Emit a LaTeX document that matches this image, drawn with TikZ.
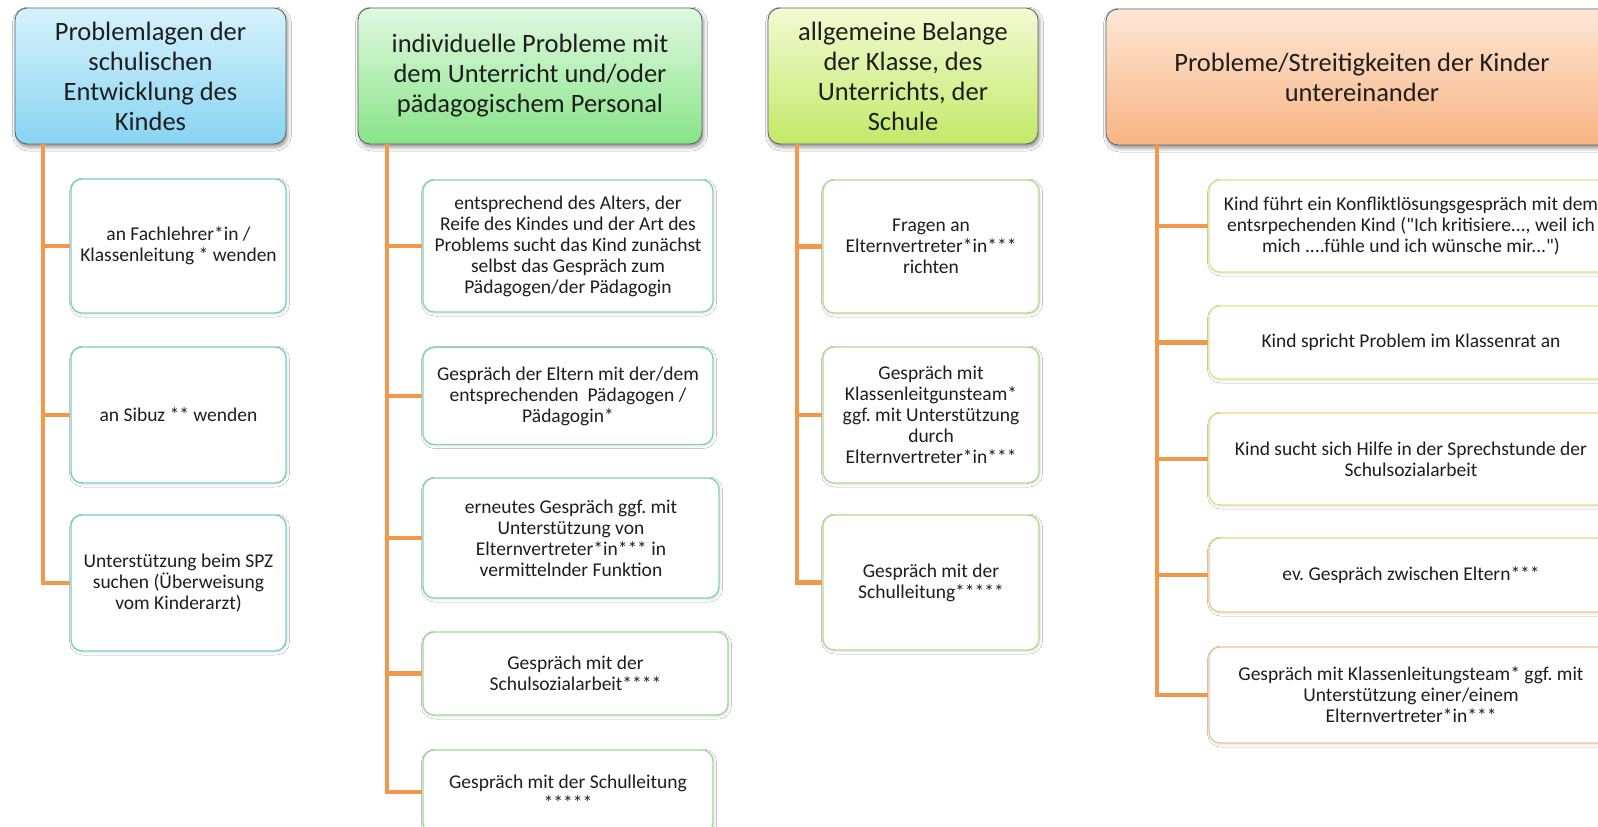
\documentclass[tikz,border=0pt]{standalone}
\usepackage{fontspec}
\setmainfont{Carlito}
\usetikzlibrary{shadows.blur}
\frenchspacing

\definecolor{txt}{HTML}{1E1E1E}
\definecolor{hdrline}{HTML}{5E6868}
\definecolor{connorange}{HTML}{F3984A}
\definecolor{blueTop}{HTML}{D6F2FC}
\definecolor{blueBot}{HTML}{88D4F2}
\definecolor{greenTop}{HTML}{E0F9E0}
\definecolor{greenBot}{HTML}{88E488}
\definecolor{limeTop}{HTML}{F3FAD2}
\definecolor{limeBot}{HTML}{C3E968}
\definecolor{orangeTop}{HTML}{FDE7D5}
\definecolor{orangeBot}{HTML}{F8B483}
\definecolor{edgeA}{HTML}{80CDC8}
\definecolor{edgeB}{HTML}{88D3B2}
\definecolor{edgeBb}{HTML}{A0DA98}
\definecolor{edgeC}{HTML}{B0DB8E}
\definecolor{edgeD1}{HTML}{D9E683}
\definecolor{edgeD2}{HTML}{ECE17F}
\definecolor{edgeD3}{HTML}{ECD981}
\definecolor{edgeD4}{HTML}{EECB85}
\definecolor{edgeD5}{HTML}{ECC49A}

\tikzset{
  hdr/.style 2 args={draw=hdrline, line width=0.9pt, rounded corners=12pt,
    top color=#1, bottom color=#2, align=center, inner sep=0pt, text=txt,
    font=\fontsize{26.5}{30}\selectfont,
    blur shadow={shadow xshift=1.5pt, shadow yshift=-3pt,
      shadow blur radius=4pt, shadow opacity=45}},
  kid/.style={draw=#1, line width=1.4pt, rounded corners=11pt, fill=white,
    align=center, inner sep=0pt, text=txt,
    font=\fontsize{19.5}{21}\selectfont,
    blur shadow={shadow xshift=1pt, shadow yshift=-1.5pt,
      shadow blur radius=2.5pt, shadow opacity=12}},
  conn/.style={draw=connorange, line width=4.5pt}
}

\begin{document}
\begin{tikzpicture}[x=1pt, y=1pt]
\useasboundingbox (0,0) rectangle (1598,-827);
\clip (0,0) rectangle (1598,-827);
\fill[white] (0,0) rectangle (1598,-827);

% column headers
\node[hdr={blueTop}{blueBot}, minimum width=271pt, minimum height=136pt]
  (h1) at (150.5,-76) {Problemlagen der\\schulischen\\Entwicklung des\\Kindes};
\node[hdr={greenTop}{greenBot}, minimum width=344pt, minimum height=136pt]
  (h2) at (530,-76) {individuelle Probleme mit\\dem Unterricht und/oder\\pädagogischem Personal};
\node[hdr={limeTop}{limeBot}, minimum width=270pt, minimum height=136pt]
  (h3) at (903,-76) {allgemeine Belange\\der Klasse, des\\Unterrichts, der\\Schule};
\node[hdr={orangeTop}{orangeBot}, minimum width=512pt, minimum height=136pt]
  (h4) at (1362,-77) {Probleme/Streitigkeiten der Kinder\\untereinander};

% trunk positions
\coordinate (t1) at (43,0);
\coordinate (t2) at (387,0);
\coordinate (t3) at (797,0);
\coordinate (t4) at (1157,0);

% column 1
\node[kid=edgeA, minimum width=215pt, minimum height=134pt] (k11) at (178.5,-246)
  {an Fachlehrer*in /\\Klassenleitung * wenden};
\node[kid=edgeA, minimum width=215pt, minimum height=136pt] (k12) at (178.5,-415)
  {an Sibuz ** wenden};
\node[kid=edgeA, minimum width=215pt, minimum height=136pt] (k13) at (178.5,-583)
  {Unterstützung beim SPZ\\suchen (Überweisung\\vom Kinderarzt)};

% column 2
\node[kid=edgeB, minimum width=290pt, minimum height=132pt] (k21) at (568,-246)
  {entsprechend des Alters, der\\Reife des Kindes und der Art des\\Problems sucht das Kind zunächst\\selbst das Gespräch zum\\Pädagogen/der Pädagogin};
\node[kid=edgeB, minimum width=290pt, minimum height=97pt] (k22) at (568,-396)
  {Gespräch der Eltern mit der/dem\\entsprechenden\ \ Pädagogen /\\Pädagogin*};
\node[kid=edgeB, minimum width=296pt, minimum height=120pt] (k23) at (571,-538)
  {erneutes Gespräch ggf. mit\\Unterstützung von\\Elternvertreter*in*** in\\vermittelnder Funktion};
\node[kid=edgeBb, minimum width=305pt, minimum height=83pt] (k24) at (575.5,-673.5)
  {Gespräch mit der\\Schulsozialarbeit****};
\node[kid=edgeBb, minimum width=290pt, minimum height=84pt] (k25) at (568,-792)
  {Gespräch mit der Schulleitung\\*****};

% column 3
\node[kid=edgeC, minimum width=216pt, minimum height=133pt] (k31) at (931,-246.5)
  {Fragen an\\Elternvertreter*in***\\richten};
\node[kid=edgeC, minimum width=216pt, minimum height=136pt] (k32) at (931,-415)
  {Gespräch mit\\Klassenleitgunsteam*\\ggf. mit Unterstützung\\durch\\Elternvertreter*in***};
\node[kid=edgeC, minimum width=216pt, minimum height=135pt] (k33) at (931,-582.5)
  {Gespräch mit der\\Schulleitung*****};

% column 4
\node[kid=edgeD1, minimum width=404pt, minimum height=92pt] (k41) at (1411,-226)
  {Kind führt ein Konfliktlösungsgespräch mit dem\\entsrpechenden Kind (\textquotedbl Ich kritisiere..., weil ich\\mich ....fühle und ich wünsche mir...\textquotedbl)};
\node[kid=edgeD2, minimum width=404pt, minimum height=73pt] (k42) at (1411,-342.5)
  {Kind spricht Problem im Klassenrat an};
\node[kid=edgeD3, minimum width=404pt, minimum height=92pt] (k43) at (1411,-459)
  {Kind sucht sich Hilfe in der Sprechstunde der\\Schulsozialarbeit};
\node[kid=edgeD4, minimum width=404pt, minimum height=74pt] (k44) at (1411,-575)
  {ev. Gespräch zwischen Eltern***};
\node[kid=edgeD5, minimum width=404pt, minimum height=96pt] (k45) at (1411,-695)
  {Gespräch mit Klassenleitungsteam* ggf. mit\\Unterstützung einer/einem\\Elternvertreter*in***};

% connectors: trunk down each column, one branch per box
\draw[conn] (h1.south -| t1) |- (k13.west);
\draw[conn] (k11.west -| t1) -- (k11.west);
\draw[conn] (k12.west -| t1) -- (k12.west);

\draw[conn] (h2.south -| t2) |- (k25.west);
\draw[conn] (k21.west -| t2) -- (k21.west);
\draw[conn] (k22.west -| t2) -- (k22.west);
\draw[conn] (k23.west -| t2) -- (k23.west);
\draw[conn] (k24.west -| t2) -- (k24.west);

\draw[conn] (h3.south -| t3) |- (k33.west);
\draw[conn] (k31.west -| t3) -- (k31.west);
\draw[conn] (k32.west -| t3) -- (k32.west);

\draw[conn] (h4.south -| t4) |- (k45.west);
\draw[conn] (k41.west -| t4) -- (k41.west);
\draw[conn] (k42.west -| t4) -- (k42.west);
\draw[conn] (k43.west -| t4) -- (k43.west);
\draw[conn] (k44.west -| t4) -- (k44.west);
\end{tikzpicture}
\end{document}
